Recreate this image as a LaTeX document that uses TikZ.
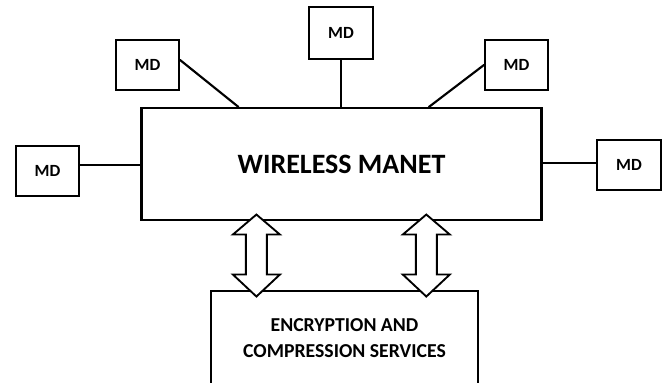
\documentclass[tikz,border=0pt]{standalone}
\usepackage{fontspec}
\setmainfont{Carlito}
\usetikzlibrary{calc}

\tikzset{
  boxline/.style={draw=black, line width=1.6pt},
  mdbox/.style={boxline, fill=white, minimum width=47.25pt, minimum height=37.5pt, inner sep=0pt,
                font=\fontsize{12.8pt}{14pt}\selectfont\bfseries},
  link/.style={line width=1.6pt, line cap=round},
  pics/dblarrow/.style={
    code={
      \draw[boxline, line width=1.4pt, fill=white, line join=miter]
        (0,-41) -- (23.5,-21) -- (10.5,-21) -- (10.5,19) -- (23.5,19) -- (0,41)
        -- (-23.5,19) -- (-10.5,19) -- (-10.5,-21) -- (-23.5,-21) -- cycle;
    }
  }
}

\begin{document}
\begin{tikzpicture}[x=0.75pt, y=-0.75pt]
  \useasboundingbox (0,0) rectangle (667,382);
  \clip (0,0) rectangle (667,382);
  \fill[white] (0,0) rectangle (667,382);

  % central network block
  \node[boxline, minimum width=300pt, minimum height=84pt, inner sep=0pt,
        font=\fontsize{21pt}{24pt}\selectfont\bfseries]
        (main) at (341.5,164) {WIRELESS MANET};

  % mobile devices around it
  \node[mdbox, minimum width=48pt, minimum height=39pt] (mdT)  at (341,33)    {MD};
  \node[mdbox] (mdTL) at (147.5,65)  {MD};
  \node[mdbox] (mdTR) at (516.5,65)  {MD};
  \node[mdbox] (mdL)  at (47.5,171)  {MD};
  \node[mdbox, minimum width=48pt] (mdR) at (629,165) {MD};

  % links from devices to the network
  \draw[link] (mdT.south) -- (mdT.south |- main.north);
  \draw[link] ($(mdTL.east)+(0,-5)$) -- ($(main.north west)+(98,0)$);
  \draw[link] (mdTR.west) -- ($(main.north west)+(288.5,0)$);
  \draw[link] ($(mdL.east)+(0,-6)$) coordinate (lA) -- (lA -| main.west);
  \draw[link] ($(mdR.west)+(0,-2)$) coordinate (rA) -- (rA -| main.east);

  % services block, running off the lower edge
  \node[boxline, minimum width=200.25pt, minimum height=97.5pt, inner sep=0pt, anchor=north]
        (enc) at (344.5,290) {};
  \node[align=center, inner sep=0pt,
        font=\fontsize{14.8pt}{19.5pt}\selectfont\bfseries]
        (encText) at (344.5,338) {ENCRYPTION AND\\COMPRESSION SERVICES};

  % two-way data flow between the blocks
  \coordinate (aL) at ($(main.south west)!0.2884!(main.south east)$);
  \coordinate (aR) at ($(main.south west)!0.7109!(main.south east)$);
  \path ($(aL)!0.5!(aL |- enc.north)$) pic {dblarrow};
  \path ($(aR)!0.5!(aR |- enc.north)$) pic {dblarrow};
\end{tikzpicture}
\end{document}
